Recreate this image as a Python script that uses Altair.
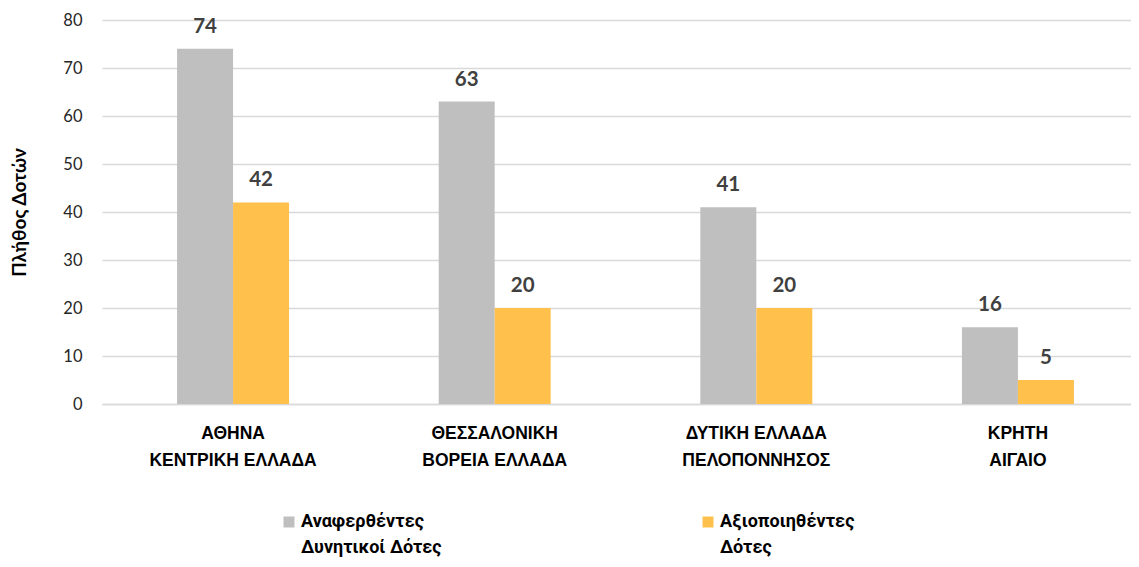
import altair as alt
import pandas as pd

categories = ["ΑΘΗΝΑ|ΚΕΝΤΡΙΚΗ ΕΛΛΑΔΑ", "ΘΕΣΣΑΛΟΝΙΚΗ|ΒΟΡΕΙΑ ΕΛΛΑΔΑ",
              "ΔΥΤΙΚΗ ΕΛΛΑΔΑ|ΠΕΛΟΠΟΝΝΗΣΟΣ", "ΚΡΗΤΗ|ΑΙΓΑΙΟ"]
series = ["Αναφερθέντες|Δυνητικοί Δότες", "Αξιοποιηθέντες|Δότες"]
reported = [74, 63, 41, 16]
utilized = [42, 20, 20, 5]
colors = ["#BFBFBF", "#FFC04C"]
y_ticks = [0, 10, 20, 30, 40, 50, 60, 70, 80]

rows = []
for c, a, b in zip(categories, reported, utilized):
    rows.append({"region": c, "series": series[0], "value": a})
    rows.append({"region": c, "series": series[1], "value": b})
df = pd.DataFrame(rows)

base = alt.Chart(df).encode(
    x=alt.X("region:N", sort=categories,
            scale=alt.Scale(paddingInner=0.572, paddingOuter=0.287, range=[0, 1047]),
            axis=alt.Axis(title=None, labelExpr="split(datum.label, '|')", labelAngle=0,
                          labelFont="Liberation Sans", labelFontSize=17.5, labelFontWeight="bold",
                          labelColor="#000000", labelLineHeight=27, labelPadding=20,
                          ticks=False, domainColor="#D9D9D9", domainWidth=1.5, grid=False)),
    xOffset=alt.XOffset("series:N", sort=series),
    y=alt.Y("value:Q", scale=alt.Scale(domain=[0, 80]),
            axis=alt.Axis(values=y_ticks, title="Πλήθος Δοτών", titleFont="Lato",
                          titleFontSize=19, titleFontWeight="bold", titleColor="#000000",
                          titlePadding=33, labelFont="Lato", labelFontSize=16.5,
                          labelColor="#262626", labelPadding=20, ticks=False, domain=False,
                          gridColor="#D9D9D9", gridWidth=1.5)),
)

bars = base.mark_bar().encode(
    color=alt.Color("series:N", sort=series,
                    scale=alt.Scale(domain=series, range=colors),
                    legend=alt.Legend(title=None, orient="none", direction="horizontal",
                                      legendX=178, legendY=493,
                                      labelExpr="split(datum.label, '|')",
                                      labelFont="Roboto", labelFontSize=18,
                                      labelFontWeight="bold", labelColor="#000000",
                                      labelBaseline="middle",
                                      labelLimit=400, symbolType="square", symbolSize=121,
                                      symbolStrokeWidth=0, columnPadding=257, labelOffset=3))
)

labels = base.mark_text(font="Lato", fontSize=20.5, fontWeight="bold", dy=-22,
                        baseline="middle", color="#404040").encode(text="value:Q")

chart = (bars + labels).properties(
    width=1029, height=384,
    padding={"left": 94, "top": 12, "right": 0, "bottom": 155},
    autosize=alt.AutoSizeParams(type="none"),
).configure(style={"guide-label": {"lineHeight": 26}}).configure_view(stroke=None)

chart.save("out.html", embed_options={"renderer": "svg", "actions": False})
